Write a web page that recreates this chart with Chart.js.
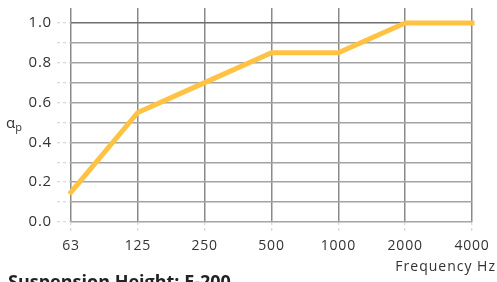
<!DOCTYPE html>
<html>
<head>
<meta charset="utf-8">
<script src="https://cdn.jsdelivr.net/npm/chart.js@4"></script>
<style>
  html, body { margin: 0; padding: 0; background: #fff; }
  #wrap { position: relative; width: 497px; height: 282px; overflow: hidden; font-family: "Open Sans", sans-serif; color: #333; }
  #chart { position: absolute; left: 0; top: 0; }
  .lbl { position: absolute; white-space: nowrap; }
  #ylab { left: 6px; top: 115px; font-size: 15px; line-height: 15px; }
  #ylab sub { font-size: 11px; vertical-align: -3px; }
  #xlab { right: 1px; top: 259px; font-size: 14px; line-height: 14px; letter-spacing: 1px; }
  #title { left: 8px; top: 272px; font-size: 18px; line-height: 18px; font-weight: 700; color: #222; }
</style>
</head>
<body>
<div id="wrap">
  <canvas id="chart" width="497" height="282"></canvas>
  <div class="lbl" id="ylab">α<sub>p</sub></div>
  <div class="lbl" id="xlab">Frequency Hz</div>
  <div class="lbl" id="title">Suspension Height: E-200</div>
</div>
<script>
// Data
const frequencies = ['63', '125', '250', '500', '1000', '2000', '4000'];
const absorption = [0.15, 0.55, 0.70, 0.85, 0.85, 1.00, 1.00];
const yTicks = [0, 0.1, 0.2, 0.3, 0.4, 0.5, 0.6, 0.7, 0.8, 0.9, 1.0];
const yLabelled = [0, 0.2, 0.4, 0.6, 0.8, 1.0];

const FONT = '"Open Sans", sans-serif';

// wider tracking on the axis text, like the original artwork
const spacingPlugin = {
    id: 'spacing',
    beforeDraw: (chart) => { chart.ctx.letterSpacing = '0.8px'; },
    afterDraw: (chart) => { chart.ctx.letterSpacing = '0px'; }
};

new Chart(document.getElementById('chart'), {
    type: 'line',
    data: {
        labels: frequencies,
        datasets: [{
            data: absorption,
            borderColor: '#FFC243',
            borderWidth: 5,
            pointRadius: 0,
            tension: 0,
            borderCapStyle: 'square',
            clip: false
        }]
    },
    options: {
        responsive: false,
        animation: false,
        layout: { padding: { left: 0, right: 25, top: 8, bottom: 0 } },
        plugins: { legend: { display: false }, tooltip: { enabled: false } },
        scales: {
            x: {
                offset: false,
                afterFit: (s) => { s.height = 60; s.paddingLeft = 0; s.paddingRight = 0; },
                grid: {
                    color: '#8a8a8a',
                    lineWidth: 1.5,
                    drawTicks: true,
                    tickLength: 10,
                    tickColor: '#cfcfcf',
                    tickBorderDash: [3, 3],
                    tickWidth: 1
                },
                border: { display: false },
                ticks: {
                    color: '#333',
                    padding: 6,
                    maxRotation: 0,
                    font: { family: FONT, size: 14 }
                }
            },
            y: {
                min: 0,
                max: 1.075,
                afterFit: (s) => { s.width = 71; s.paddingTop = 0; s.paddingBottom = 0; },
                afterBuildTicks: (s) => { s.ticks = yTicks.map(v => ({ value: v })); },
                grid: {
                    color: (ctx) => ctx.tick && Math.abs(ctx.tick.value - 1) < 1e-6 ? '#6e6e6e' : '#a3a3a3',
                    lineWidth: 1.5,
                    drawTicks: true,
                    tickLength: 14,
                    tickColor: '#cfcfcf',
                    tickBorderDash: [3, 3],
                    tickWidth: 1
                },
                border: { display: false },
                ticks: {
                    color: '#333',
                    padding: 5,
                    font: { family: FONT, size: 15 },
                    callback: (v) => yLabelled.some(t => Math.abs(t - v) < 1e-6) ? v.toFixed(1) : ''
                }
            }
        }
    },
    plugins: [spacingPlugin]
});
</script>
</body>
</html>
